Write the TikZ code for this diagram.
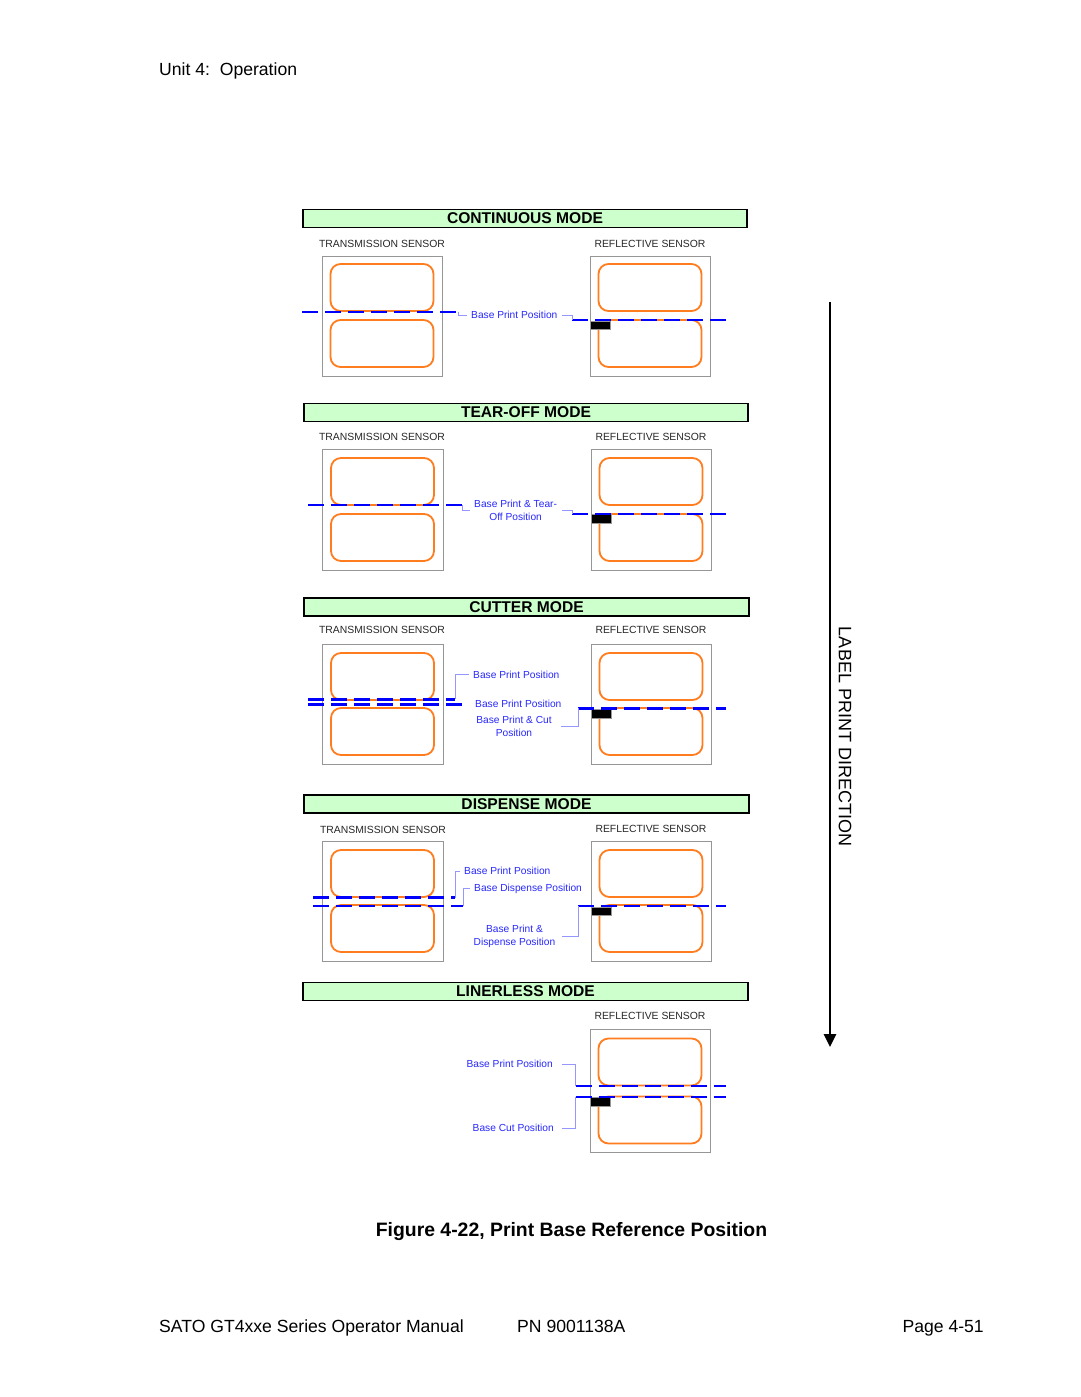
\documentclass[tikz,border=0pt]{standalone}
\usepackage{fontspec}
\setmainfont{Liberation Sans}
\usetikzlibrary{arrows.meta}
\definecolor{lblorange}{RGB}{255,125,30}
\definecolor{modegreen}{RGB}{204,255,204}
\definecolor{posblue}{RGB}{0,0,255}
\definecolor{txtblue}{RGB}{40,40,255}
\definecolor{leadblue}{RGB}{150,150,255}
\definecolor{boxgray}{RGB}{150,150,150}
\definecolor{sensgray}{RGB}{40,40,40}
\begin{document}
\begin{tikzpicture}[x=1pt,y=-1pt,
  modebox/.style={draw=black,line width=1.8pt,fill=modegreen,minimum width=444pt,minimum height=18pt,inner sep=0pt,
     font=\fontsize{15.6}{16}\selectfont\bfseries},
  senstitle/.style={inner sep=0pt,text=sensgray,font=\fontsize{10.4}{12}\selectfont},
  sensorbox/.style={draw=boxgray,line width=0.9pt,minimum width=120pt,minimum height=120pt,inner sep=0pt},
  labelshape/.style={draw=lblorange,line width=1.8pt,rounded corners=10pt,minimum width=103pt,minimum height=47pt,inner sep=0pt},
  blackbar/.style={draw=boxgray,line width=0.6pt,fill=black,minimum width=20pt,minimum height=8.5pt,inner sep=0pt,anchor=north west},
  posline/.style={draw=posblue,line width=2.6pt,dash pattern=on 16pt off 7pt},
  leader/.style={draw=leadblue,line width=0.8pt},
  postext/.style={text=txtblue,inner xsep=4.5pt,inner ysep=1pt,align=center,font=\fontsize{10.2}{12.7}\selectfont},
  pagetext/.style={inner sep=0pt,font=\fontsize{17.6}{20}\selectfont}
]
\useasboundingbox (0,0) rectangle (1080,1397);
\fill[white] (0,0) rectangle (1080,1397);

% header / footer
\node[pagetext,anchor=base west] (hdr) at (159,75.5) {Unit 4:\ \ Operation};
\node[pagetext,anchor=base west] (ft1) at (159,1332.5) {SATO GT4xxe Series Operator Manual};
\node[pagetext,anchor=base west] (ft2) at (517,1332.5) {PN 9001138A};
\node[pagetext,anchor=base east] (ft3) at (984,1332.5) {Page 4-51};
\node[inner sep=0pt,anchor=base,font=\fontsize{19.4}{22}\selectfont\bfseries] (cap) at (571.5,1236) {Figure 4-22, Print Base Reference Position};

% ================= CONTINUOUS MODE =================
\node[modebox] (m1) at (525,218.5) {CONTINUOUS MODE};
\node[senstitle] (t1h) at (382,244) {TRANSMISSION SENSOR};
\node[senstitle] (r1h) at (650,244) {REFLECTIVE SENSOR};
\node[sensorbox] (t1) at (382,316) {};
\node[labelshape] (t1a) at (382,287.5) {};
\node[labelshape] (t1b) at (382,343.5) {};
\node[sensorbox] (r1) at (650,316) {};
\node[labelshape] (r1a) at (650,287.5) {};
\node[labelshape] (r1b) at (650,343.5) {};
\node[blackbar] (s1) at (589.5,320.5) {};
\coordinate (p1s) at (302,312); \coordinate (p1e) at (458,312);
\coordinate (q1s) at (572,320); \coordinate (q1e) at (725.5,320);
\draw[posline] (p1s) -- (p1e);
\draw[posline] (q1s) -- (q1e);
\node[postext,anchor=west] (bp1) at (466.5,315) {Base Print Position};
\draw[leader] (p1e) |- (bp1.west);
\draw[leader] (bp1.east) -| (q1s);

% ================= TEAR-OFF MODE =================
\node[modebox] (m2) at (526,412.5) {TEAR-OFF MODE};
\node[senstitle] (t2h) at (382,437) {TRANSMISSION SENSOR};
\node[senstitle] (r2h) at (651,437) {REFLECTIVE SENSOR};
\node[sensorbox,minimum width=121pt,minimum height=121pt] (t2) at (382.5,509.5) {};
\node[labelshape] (t2a) at (382.5,481.5) {};
\node[labelshape] (t2b) at (382.5,537.5) {};
\node[sensorbox,minimum width=120pt,minimum height=121pt] (r2) at (651,509.5) {};
\node[labelshape] (r2a) at (651,481.5) {};
\node[labelshape] (r2b) at (651,537.5) {};
\node[blackbar] (s2) at (590.5,514.3) {};
\coordinate (p2s) at (308,505); \coordinate (p2e) at (462,505);
\coordinate (q2s) at (572,514); \coordinate (q2e) at (726,514);
\draw[posline] (p2s) -- (p2e);
\draw[posline] (q2s) -- (q2e);
\node[postext,anchor=west] (bp2) at (469.5,510) {Base Print \& Tear-\\Off Position};
\draw[leader] (p2e) |- (bp2.west);
\draw[leader] (bp2.east) -| (q2s);

% ================= CUTTER MODE =================
\node[modebox,minimum width=445pt] (m3) at (526.5,607) {CUTTER MODE};
\node[senstitle] (t3h) at (382,630) {TRANSMISSION SENSOR};
\node[senstitle] (r3h) at (651,630) {REFLECTIVE SENSOR};
\node[sensorbox,minimum width=121pt] (t3) at (382.5,704) {};
\node[labelshape] (t3a) at (382.5,676.5) {};
\node[labelshape] (t3b) at (382.5,731.5) {};
\node[sensorbox] (r3) at (651,704) {};
\node[labelshape] (r3a) at (651,676.5) {};
\node[labelshape] (r3b) at (651,731.5) {};
\node[blackbar] (s3) at (590.5,709) {};
\coordinate (p3s) at (308,699.3); \coordinate (p3e) at (455,699.3);
\coordinate (p3t) at (308,704.5); \coordinate (p3u) at (465,704.5);
\coordinate (q3s) at (578,708.3); \coordinate (q3e) at (726,708.3);
\draw[posline] (p3s) -- (p3e);
\draw[posline] (p3t) -- (p3u);
\draw[posline] (q3s) -- (q3e);
\node[postext,anchor=west] (bp3a) at (468.5,674.5) {Base Print Position};
\node[postext,anchor=west] (bp3b) at (470.5,703.5) {Base Print Position};
\node[postext] (bc3) at (514,726.5) {Base Print \& Cut\\Position};
\draw[leader] (p3e) |- (bp3a.west);
\draw[leader,shorten <=5pt] (bc3.east) -| (q3s);

% ================= DISPENSE MODE =================
\node[modebox,minimum width=445pt] (m4) at (526.5,804) {DISPENSE MODE};
\node[senstitle] (t4h) at (383,830) {TRANSMISSION SENSOR};
\node[senstitle] (r4h) at (651,828.5) {REFLECTIVE SENSOR};
\node[sensorbox,minimum width=121pt] (t4) at (382.5,901) {};
\node[labelshape] (t4a) at (382.5,873.5) {};
\node[labelshape] (t4b) at (382.5,928.5) {};
\node[sensorbox] (r4) at (651,901) {};
\node[labelshape] (r4a) at (651,873.5) {};
\node[labelshape] (r4b) at (651,928.5) {};
\node[blackbar] (s4) at (590.5,906.5) {};
\coordinate (p4s) at (313,897.5); \coordinate (p4e) at (455,897.5);
\coordinate (p4t) at (313,906); \coordinate (p4u) at (463,906);
\coordinate (q4s) at (578,906); \coordinate (q4e) at (726,906);
\draw[posline] (p4s) -- (p4e);
\draw[posline] (p4t) -- (p4u);
\draw[posline] (q4s) -- (q4e);
\node[postext,anchor=west] (bp4) at (459.5,871) {Base Print Position};
\node[postext,anchor=west] (bd4) at (469.5,888.5) {Base Dispense Position};
\node[postext] (bpd4) at (514.5,936.5) {Base Print \&\\Dispense Position};
\draw[leader] (p4e) |- (bp4.west);
\draw[leader] (p4u) |- (bd4.west);
\draw[leader,shorten <=2pt] (bpd4.east) -| (q4s);

% ================= LINERLESS MODE =================
\node[modebox,minimum width=445pt] (m5) at (525.5,991.5) {LINERLESS MODE};
\node[senstitle] (r5h) at (650,1016) {REFLECTIVE SENSOR};
\node[sensorbox,minimum height=123pt] (r5) at (650,1090.5) {};
\node[labelshape] (r5a) at (650,1062) {};
\node[labelshape] (r5b) at (650,1120) {};
\node[blackbar] (s5) at (589.5,1097) {};
\coordinate (q5s) at (575.5,1086); \coordinate (q5e) at (725.5,1086);
\coordinate (q5t) at (575.5,1097); \coordinate (q5u) at (725.5,1097);
\draw[posline] (q5s) -- (q5e);
\draw[posline] (q5t) -- (q5u);
\node[postext,anchor=east] (bp5) at (557.5,1064) {Base Print Position};
\node[postext,anchor=east] (bc5) at (558.5,1128) {Base Cut Position};
\draw[leader,shorten <=4pt] (bp5.east) -| (q5s);
\draw[leader,shorten <=3pt] (bc5.east) -| (q5t);

% ================= DIRECTION ARROW =================
\coordinate (dirtop) at (830,302);
\coordinate (dirbot) at (830,1047);
\draw[line width=2.7pt,-{Triangle[width=12pt,length=13pt]}] (dirtop) -- (dirbot);
\node[inner sep=0pt,rotate=-90,font=\fontsize{18}{20}\selectfont] (dirlbl) at (845,736.5) {LABEL PRINT DIRECTION};
\end{tikzpicture}
\end{document}
